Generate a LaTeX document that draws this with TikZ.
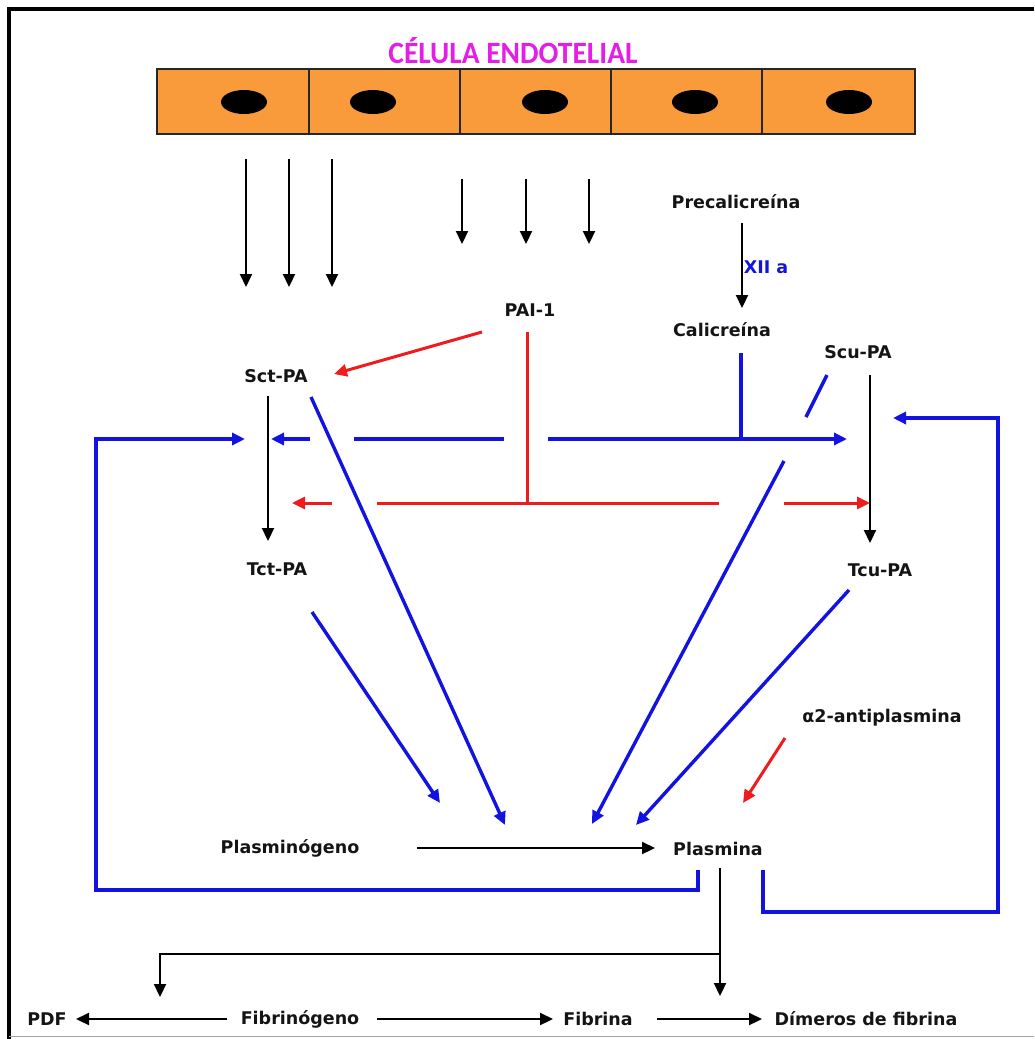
\documentclass[tikz,border=0pt]{standalone}
\usepackage{fontspec}
\setmainfont{DejaVu Sans}
\newfontfamily\titlefont{Carlito}
\usetikzlibrary{arrows.meta}
\definecolor{cellorange}{RGB}{249,155,58}
\definecolor{myblue}{RGB}{18,18,225}
\definecolor{myred}{RGB}{238,28,28}
\definecolor{mymag}{RGB}{228,30,228}
\begin{document}
\begin{tikzpicture}[x=1pt,y=-1pt,
  lbl/.style={font=\fontsize{17.5}{20}\selectfont\bfseries, inner sep=0pt, text=black!92},
  cell/.style={draw=black!85, line width=1.3pt, fill=cellorange, minimum height=65pt, inner sep=0pt},
  tip/.style={-{Triangle[length=13pt,width=12pt]}},
  blk/.style={draw=black, line width=2.2pt},
  blu/.style={draw=myblue, line width=3.4pt},
  rd/.style={draw=myred, line width=3pt}
]
\useasboundingbox (0,0) rectangle (1034,1039);
% frame
\draw[line width=4.5pt] (9,1039) -- (9,9) -- (1034,9);
\draw[black!35, line width=1pt] (9,1036.5) -- (1034,1036.5);

% title and cells
\node[inner sep=0pt, text=mymag] (title) at (513,51)
  {\scalebox{0.95}[1]{\titlefont\fontsize{31}{33}\selectfont\bfseries CÉLULA ENDOTELIAL}};
\node[cell, minimum width=152pt] (c1) at (233,101.5) {};
\node[cell, minimum width=151pt] (c2) at (384.5,101.5) {};
\node[cell, minimum width=151pt] (c3) at (535.5,101.5) {};
\node[cell, minimum width=151pt] (c4) at (686.5,101.5) {};
\node[cell, minimum width=153pt] (c5) at (838.5,101.5) {};
\fill (244,102) ellipse [x radius=23pt, y radius=12pt];
\fill (373,102) ellipse [x radius=23pt, y radius=12pt];
\fill (545,102) ellipse [x radius=23pt, y radius=12pt];
\fill (695,102) ellipse [x radius=23pt, y radius=12pt];
\fill (849,102) ellipse [x radius=23pt, y radius=12pt];

% labels
\node[lbl] (prec) at (736,202) {Precalicreína};
\node[lbl, text=myblue] (xii) at (766,267) {XII a};
\node[lbl] (cal) at (722,330) {Calicreína};
\node[lbl] (scu) at (858,352) {Scu-PA};
\node[lbl] (pai) at (530,310) {PAI-1};
\node[lbl] (sct) at (276,376) {Sct-PA};
\node[lbl] (tct) at (277,569) {Tct-PA};
\node[lbl] (tcu) at (880,570) {Tcu-PA};
\node[lbl] (a2) at (882,718) {α2-antiplasmina};
\node[lbl] (plg) at (290,848) {Plasminógeno};
\node[lbl] (pla) at (718,849) {Plasmina};
\node[lbl] (pdf) at (47,1019) {PDF};
\node[lbl] (fbg) at (300,1019) {Fibrinógeno};
\node[lbl] (fib) at (598,1019) {Fibrina};
\node[lbl] (dim) at (866,1019) {Dímeros de fibrina};

% black arrows from the cells
\foreach \x in {246,289,332} \draw[blk,tip] (\x,159) -- (\x,287);
\foreach \x in {462,526,589} \draw[blk,tip] (\x,179) -- (\x,244);

% black pathway arrows
\draw[blk,tip] (742,223) -- (742,308);
\draw[blk,tip] (268,396) -- (268,541);
\draw[blk,tip] (870,375) -- (870,543);
\draw[blk,tip] (417,848) -- (655,848);
\draw[blk,tip] (720,868) -- (720,996);
\draw[blk,tip] (720,954) -- (160,954) -- (160,997);
\draw[blk,tip] (227,1019) -- (76,1019);
\draw[blk,tip] (377,1019) -- (553,1019);
\draw[blk,tip] (657,1019) -- (762,1019);

% red inhibitor lines
\draw[rd,tip] (482,332) -- (334,374);
\draw[rd] (527,332) -- (527,503);
\draw[rd] (377,503) -- (719,503);
\draw[rd,tip] (332,503) -- (292,503);
\draw[rd,tip] (784,503) -- (870,503);
\draw[rd,tip] (785,738) -- (743,803);

% blue activation lines
\draw[blu,tip] (698,870) -- (698,890) -- (96,890) -- (96,439) -- (245,439);
\draw[blu,tip] (310,439) -- (271,439);
\draw[blu] (354,439) -- (504,439);
\draw[blu,tip] (548,439) -- (847,439);
\draw[blu] (741,353) -- (741,439);
\draw[blu,tip] (311,397) -- (505,825);
\draw[blu,tip] (312,612) -- (440,803);
\draw[blu] (827,375) -- (806,417);
\draw[blu,tip] (784,461) -- (592,824);
\draw[blu,tip] (849,590) -- (636,825);
\draw[blu,tip] (763,870) -- (763,912) -- (998,912) -- (998,418) -- (893,418);
\end{tikzpicture}
\end{document}
